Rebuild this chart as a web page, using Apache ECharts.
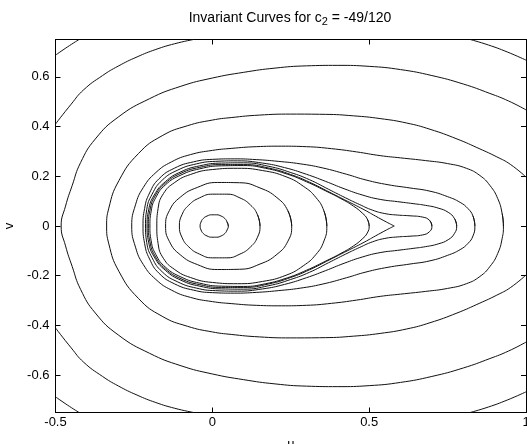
<!DOCTYPE html>
<html>
<head>
<meta charset="utf-8">
<script src="https://cdn.jsdelivr.net/npm/echarts@6/dist/echarts.min.js"></script>
<style>
  html, body { margin: 0; padding: 0; background: #fff; }
  #chart { width: 527px; height: 444px; }
</style>
</head>
<body>
<div id="chart"></div>
<script>
// tick labels
const xTicks = [-0.5, 0, 0.5, 1];
const yTicks = [-0.6, -0.4, -0.2, 0, 0.2, 0.4, 0.6];

// invariant curves as [u, v]
// closed curves: upper half from right tip to left tip, lower half back to the right tip
const c1Top = [[0.051,0],[0.047,0.016],[0.04,0.03],[0.028,0.04],[0.014,0.045],[-0.002,0.045],[-0.017,0.04],[-0.029,0.03],[-0.036,0.016],[-0.039,0]];
const c1Bot = [[-0.036,-0.016],[-0.029,-0.03],[-0.017,-0.04],[-0.002,-0.045],[0.014,-0.045],[0.028,-0.04],[0.04,-0.03],[0.047,-0.016],[0.051,0]];

const c2Top = [[0.152,0],[0.144,0.045],[0.122,0.084],[0.088,0.113],[0.046,0.128],[0.001,0.128],[-0.041,0.113],[-0.075,0.084],[-0.097,0.045],[-0.105,0]];
const c2Bot = [[-0.097,-0.045],[-0.075,-0.084],[-0.041,-0.113],[0.001,-0.128],[0.046,-0.128],[0.088,-0.113],[0.122,-0.084],[0.144,-0.045],[0.152,0]];

const c3Top = [[0.253,0],[0.241,0.061],[0.206,0.114],[0.152,0.153],[0.087,0.174],[0.017,0.175],[-0.048,0.155],[-0.102,0.116],[-0.137,0.062],[-0.149,0]];
const c3Bot = [[-0.137,-0.062],[-0.102,-0.116],[-0.048,-0.155],[0.017,-0.175],[0.087,-0.174],[0.152,-0.153],[0.206,-0.114],[0.241,-0.061],[0.253,0]];

const c4Top = [[0.365,0],[0.356,0.06],[0.33,0.115],[0.29,0.16],[0.235,0.198],[0.16,0.223],[0.08,0.232],[0,0.227],[-0.07,0.207],[-0.12,0.175],[-0.156,0.13],[-0.173,0.07],[-0.177,0]];
const c4Bot = [[-0.173,-0.07],[-0.156,-0.13],[-0.12,-0.175],[-0.07,-0.207],[0,-0.227],[0.08,-0.232],[0.16,-0.223],[0.235,-0.198],[0.29,-0.16],[0.33,-0.115],[0.356,-0.06],[0.365,0]];

const c5Top = [[0.5,0],[0.494,0.028],[0.478,0.052],[0.45,0.08],[0.41,0.11],[0.36,0.142],[0.3,0.178],[0.24,0.208],[0.17,0.232],[0.1,0.243],[0.03,0.242],[-0.04,0.23],[-0.1,0.205],[-0.15,0.165],[-0.18,0.115],[-0.195,0.06],[-0.199,0]];
const c5Bot = [[-0.195,-0.06],[-0.18,-0.115],[-0.15,-0.165],[-0.1,-0.205],[-0.04,-0.23],[0.03,-0.242],[0.1,-0.243],[0.17,-0.232],[0.24,-0.208],[0.3,-0.178],[0.36,-0.142],[0.41,-0.11],[0.45,-0.08],[0.478,-0.052],[0.494,-0.028],[0.5,0]];

// pointed one, right next to the saddle
const c6Top = [[0.58,0],[0.555,0.016],[0.52,0.04],[0.48,0.068],[0.43,0.1],[0.375,0.135],[0.31,0.176],[0.25,0.207],[0.18,0.233],[0.1,0.247],[0.03,0.247],[-0.04,0.236],[-0.1,0.212],[-0.15,0.172],[-0.183,0.12],[-0.199,0.063],[-0.204,0]];
const c6Bot = [[-0.199,-0.063],[-0.183,-0.12],[-0.15,-0.172],[-0.1,-0.212],[-0.04,-0.236],[0.03,-0.247],[0.1,-0.247],[0.18,-0.233],[0.25,-0.207],[0.31,-0.176],[0.375,-0.135],[0.43,-0.1],[0.48,-0.068],[0.52,-0.04],[0.555,-0.016],[0.58,0]];

const c7Top = [[0.7,0],[0.693,0.022],[0.67,0.036],[0.63,0.041],[0.59,0.044],[0.55,0.05],[0.51,0.064],[0.47,0.086],[0.425,0.113],[0.37,0.148],[0.31,0.186],[0.25,0.215],[0.18,0.24],[0.1,0.254],[0.03,0.253],[-0.04,0.242],[-0.1,0.218],[-0.15,0.178],[-0.185,0.125],[-0.203,0.065],[-0.208,0]];
const c7Bot = [[-0.203,-0.065],[-0.185,-0.125],[-0.15,-0.178],[-0.1,-0.218],[-0.04,-0.242],[0.03,-0.253],[0.1,-0.254],[0.18,-0.24],[0.25,-0.215],[0.31,-0.186],[0.37,-0.148],[0.425,-0.113],[0.47,-0.086],[0.51,-0.064],[0.55,-0.05],[0.59,-0.044],[0.63,-0.041],[0.67,-0.036],[0.693,-0.022],[0.7,0]];

const c8Top = [[0.779,0],[0.772,0.03],[0.752,0.055],[0.72,0.072],[0.68,0.083],[0.64,0.09],[0.59,0.098],[0.535,0.107],[0.48,0.124],[0.42,0.15],[0.36,0.18],[0.3,0.208],[0.23,0.235],[0.16,0.253],[0.08,0.262],[0.01,0.26],[-0.05,0.25],[-0.11,0.225],[-0.16,0.184],[-0.192,0.128],[-0.209,0.067],[-0.213,0]];
const c8Bot = [[-0.209,-0.067],[-0.192,-0.128],[-0.16,-0.184],[-0.11,-0.225],[-0.05,-0.25],[0.01,-0.26],[0.08,-0.262],[0.16,-0.253],[0.23,-0.235],[0.3,-0.208],[0.36,-0.18],[0.42,-0.15],[0.48,-0.124],[0.535,-0.107],[0.59,-0.098],[0.64,-0.09],[0.68,-0.083],[0.72,-0.072],[0.752,-0.055],[0.772,-0.03],[0.779,0]];

const c9Top = [[0.837,0],[0.831,0.04],[0.815,0.07],[0.79,0.095],[0.75,0.118],[0.694,0.14],[0.63,0.153],[0.56,0.166],[0.49,0.185],[0.428,0.208],[0.35,0.234],[0.28,0.25],[0.21,0.26],[0.14,0.267],[0.07,0.27],[0,0.268],[-0.06,0.258],[-0.12,0.233],[-0.17,0.19],[-0.2,0.133],[-0.216,0.07],[-0.221,0]];
const c9Bot = [[-0.216,-0.07],[-0.2,-0.133],[-0.17,-0.19],[-0.12,-0.233],[-0.06,-0.258],[0,-0.268],[0.07,-0.27],[0.14,-0.267],[0.21,-0.26],[0.28,-0.25],[0.35,-0.234],[0.428,-0.208],[0.49,-0.185],[0.56,-0.166],[0.63,-0.153],[0.694,-0.14],[0.75,-0.118],[0.79,-0.095],[0.815,-0.07],[0.831,-0.04],[0.837,0]];

const c10Top = [[0.928,0],[0.924,0.05],[0.91,0.11],[0.885,0.163],[0.853,0.203],[0.81,0.232],[0.75,0.251],[0.68,0.263],[0.6,0.274],[0.535,0.283],[0.46,0.298],[0.38,0.311],[0.3,0.319],[0.22,0.321],[0.14,0.319],[0.06,0.312],[0,0.304],[-0.07,0.287],[-0.13,0.258],[-0.18,0.215],[-0.22,0.155],[-0.245,0.085],[-0.257,0]];
const c10Bot = [[-0.245,-0.085],[-0.22,-0.155],[-0.18,-0.215],[-0.13,-0.258],[-0.07,-0.287],[0,-0.304],[0.06,-0.312],[0.14,-0.319],[0.22,-0.321],[0.3,-0.319],[0.38,-0.311],[0.46,-0.298],[0.535,-0.283],[0.6,-0.274],[0.68,-0.263],[0.75,-0.251],[0.81,-0.232],[0.853,-0.203],[0.885,-0.163],[0.91,-0.11],[0.924,-0.05],[0.928,0]];

// open curves that leave the box on the right
const rTop = [[1.0,0.197],[0.95,0.248],[0.907,0.278],[0.853,0.31],[0.78,0.35],[0.694,0.389],[0.62,0.414],[0.535,0.432],[0.45,0.443],[0.36,0.449],[0.25,0.45],[0.15,0.446],[0.06,0.436],[0,0.426],[-0.08,0.403],[-0.16,0.363],[-0.235,0.292],[-0.298,0.182],[-0.33,0.072],[-0.337,0]];
const rBot = [[-0.33,-0.072],[-0.298,-0.182],[-0.235,-0.292],[-0.16,-0.363],[-0.08,-0.403],[0,-0.426],[0.06,-0.436],[0.15,-0.446],[0.25,-0.45],[0.36,-0.449],[0.45,-0.443],[0.535,-0.432],[0.62,-0.414],[0.694,-0.389],[0.78,-0.35],[0.853,-0.31],[0.907,-0.278],[0.95,-0.248],[1.0,-0.197]];

const qTop = [[1.0,0.467],[0.944,0.503],[0.885,0.533],[0.8,0.571],[0.7,0.605],[0.6,0.629],[0.5,0.642],[0.4,0.646],[0.3,0.644],[0.2,0.635],[0.1,0.618],[0,0.595],[-0.1,0.562],[-0.2,0.512],[-0.3,0.438],[-0.373,0.35],[-0.42,0.255],[-0.447,0.162],[-0.468,0.08],[-0.482,0]];
const qBot = [[-0.468,-0.08],[-0.447,-0.162],[-0.42,-0.255],[-0.373,-0.35],[-0.3,-0.438],[-0.2,-0.512],[-0.1,-0.562],[0,-0.595],[0.1,-0.618],[0.2,-0.635],[0.3,-0.644],[0.4,-0.646],[0.5,-0.642],[0.6,-0.629],[0.7,-0.605],[0.8,-0.571],[0.885,-0.533],[0.944,-0.503],[1.0,-0.467]];

// pieces cut by the box edges
const pTopLeft = [[-0.5,0.41],[-0.45,0.49],[-0.41,0.548],[-0.35,0.605],[-0.3,0.643],[-0.24,0.68],[-0.18,0.71],[-0.12,0.733],[-0.06,0.75]];
const pTopRight = [[0.822,0.75],[0.88,0.728],[0.94,0.7],[1.0,0.667]];
const pBotLeft = [[-0.5,-0.41],[-0.45,-0.49],[-0.41,-0.548],[-0.35,-0.605],[-0.3,-0.643],[-0.24,-0.68],[-0.18,-0.71],[-0.12,-0.733],[-0.06,-0.75]];
const pBotRight = [[0.822,-0.75],[0.88,-0.728],[0.94,-0.7],[1.0,-0.667]];
const sTop = [[-0.5,0.687],[-0.462,0.72],[-0.425,0.75]];
const sBot = [[-0.5,-0.687],[-0.462,-0.72],[-0.425,-0.75]];

const loops = [[c1Top,c1Bot],[c2Top,c2Bot],[c3Top,c3Bot],[c4Top,c4Bot],[c5Top,c5Bot],[c7Top,c7Bot],[c8Top,c8Bot],[c9Top,c9Bot],[c10Top,c10Bot]];
const openPieces = [c6Top.concat(c6Bot), rTop.concat(rBot), qTop.concat(qBot), pTopLeft, pTopRight, pBotLeft, pBotRight, sTop, sBot];

const FONT = 'Liberation Sans, Arial, Helvetica, sans-serif';

function curve(points) {
    return {
        type: 'line',
        data: points,
        showSymbol: false,
        smooth: 0.5,
        silent: true,
        lineStyle: { color: '#111', width: 1 }
    };
}

let series = [];
loops.forEach(function (pair) {
    let pts = pair[0].concat(pair[1]);
    pts.push(pair[0][1]); // run a little past the start so the joint stays smooth
    series.push(curve(pts));
});
openPieces.forEach(function (pts) {
    series.push(curve(pts));
});

const frameLine = { show: true, onZero: false, lineStyle: { color: '#000', width: 1 } };
const tickIn = { show: true, inside: true, length: 5, lineStyle: { color: '#000' } };

const option = {
    animation: false,
    backgroundColor: '#fff',
    grid: { left: 55.5, right: 1, top: 39.5, bottom: 31.5, containLabel: false, outerBoundsMode: 'none' },
    graphic: [{
        type: 'text',
        x: 290,
        y: 9,
        style: {
            text: '{a|Invariant Curves for c}{s|2}{a| = -49/120}',
            align: 'center',
            verticalAlign: 'top',
            rich: {
                a: { fontSize: 14, fontFamily: FONT, fill: '#000', lineHeight: 18 },
                s: { fontSize: 11, fontFamily: FONT, fill: '#000', lineHeight: 1, verticalAlign: 'bottom' }
            }
        }
    }],
    xAxis: [{
        type: 'value',
        position: 'bottom',
        min: -0.5, max: 1, interval: 0.5,
        axisLine: frameLine,
        axisTick: Object.assign({ customValues: xTicks }, tickIn),
        axisLabel: { customValues: xTicks, showMaxLabel: true, color: '#000', fontSize: 13, fontFamily: FONT, margin: 3 },
        splitLine: { show: false },
        name: 'u', nameLocation: 'middle', nameGap: 25,
        nameTextStyle: { color: '#000', fontSize: 13, fontFamily: FONT }
    }, {
        type: 'value',
        position: 'top',
        min: -0.5, max: 1, interval: 0.5,
        axisLine: frameLine,
        axisTick: Object.assign({ customValues: xTicks }, tickIn),
        axisLabel: { show: false },
        splitLine: { show: false }
    }],
    yAxis: [{
        type: 'value',
        position: 'left',
        min: -0.75, max: 0.75,
        axisLine: frameLine,
        axisTick: Object.assign({ customValues: yTicks }, tickIn),
        axisLabel: { customValues: yTicks, color: '#000', fontSize: 13, fontFamily: FONT, margin: 6 },
        splitLine: { show: false },
        name: 'v', nameLocation: 'middle', nameGap: 36, nameRotate: 90,
        nameTextStyle: { color: '#000', fontSize: 13, fontFamily: FONT }
    }, {
        type: 'value',
        position: 'right',
        min: -0.75, max: 0.75,
        axisLine: frameLine,
        axisTick: Object.assign({ customValues: yTicks }, tickIn),
        axisLabel: { show: false },
        splitLine: { show: false }
    }],
    series: series
};

let myChart = echarts.init(document.getElementById('chart'));
myChart.setOption(option);
</script>
</body>
</html>
